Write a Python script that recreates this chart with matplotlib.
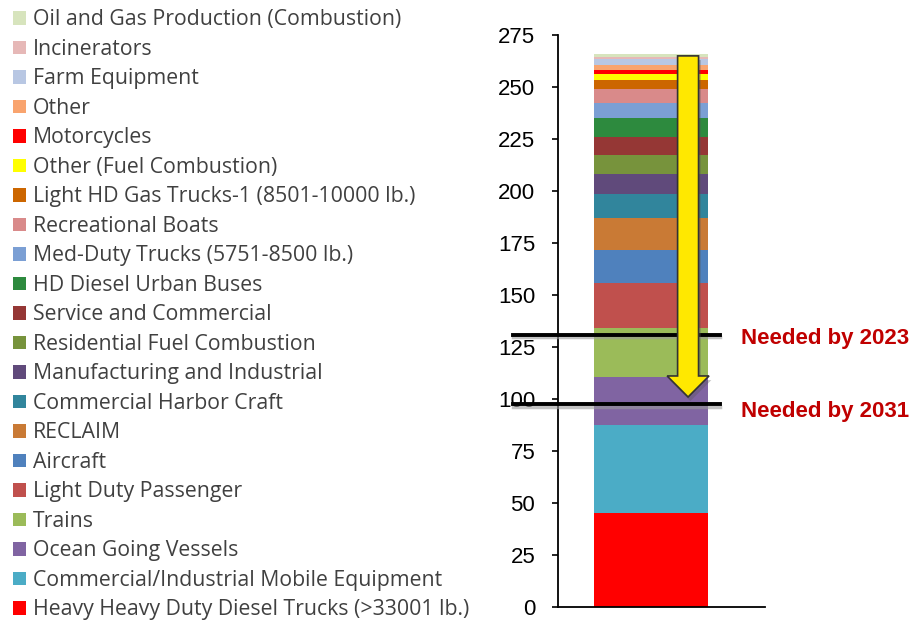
import matplotlib.pyplot as plt
from matplotlib.patches import Patch, FancyArrow

# NOx emission sources, bottom of stack first (tons/day)
sources = [
    "Heavy Heavy Duty Diesel Trucks (>33001 lb.)",
    "Commercial/Industrial Mobile Equipment",
    "Ocean Going Vessels",
    "Trains",
    "Light Duty Passenger",
    "Aircraft",
    "RECLAIM",
    "Commercial Harbor Craft",
    "Manufacturing and Industrial",
    "Residential Fuel Combustion",
    "Service and Commercial",
    "HD Diesel Urban Buses",
    "Med-Duty Trucks (5751-8500 lb.)",
    "Recreational Boats",
    "Light HD Gas Trucks-1 (8501-10000 lb.)",
    "Other (Fuel Combustion)",
    "Motorcycles",
    "Other",
    "Farm Equipment",
    "Incinerators",
    "Oil and Gas Production (Combustion)",
]
values = [45.0, 42.7, 23.0, 23.5, 21.5, 15.8, 15.4, 11.5, 10.0, 9.1,
          8.7, 9.1, 7.2, 6.7, 4.3, 2.9, 1.9, 2.4, 2.7, 1.0, 1.3]
colors = ["#ff0000", "#4bacc6", "#8064a2", "#9bbb59", "#c0504d", "#4f81bd",
          "#c97a35", "#31859c", "#604a7b", "#77933c", "#953735", "#2d8a3e",
          "#7b9fd4", "#d98a8a", "#cc6600", "#ffff00", "#ff0000", "#f9a46e",
          "#b8c7e3", "#e6b8b7", "#d7e4bd"]

targets = [131, 97.5]
target_labels = ["Needed by 2023", "Needed by 2031"]
yticks = list(range(0, 276, 25))

fig = plt.figure(figsize=(9.15, 6.21), dpi=100)
ax = fig.add_axes([0.610, 0.0225, 0.226, 0.921])

bottom = 0
for v, c in zip(values, colors):
    ax.bar(0, v, width=1.0, bottom=bottom, color=c, linewidth=0)
    bottom += v

ax.set_xlim(-0.816, 1.0)
ax.set_ylim(0, 275)
ax.set_yticks(yticks)
ax.set_xticks([])
for s in ["top", "right"]:
    ax.spines[s].set_visible(False)
ax.spines["left"].set_linewidth(1.3)
ax.spines["bottom"].set_linewidth(1.3)
ax.tick_params(axis="y", direction="out", length=4.5, width=1.2, pad=12,
               labelsize=16)
for lab in ax.get_yticklabels():
    lab.set_fontfamily("Liberation Sans")

# yellow arrow (drawn over the target lines) with a faint shadow
shadow = FancyArrow(0.345, 263, 0, -164, width=0.184, head_width=0.368,
                    head_length=10.1, length_includes_head=True,
                    facecolor="#555555", edgecolor="none", alpha=0.35,
                    zorder=6)
ax.add_patch(shadow)
arrow = FancyArrow(0.325, 265, 0, -164, width=0.184, head_width=0.368,
                   head_length=10.1, length_includes_head=True,
                   facecolor="#ffe800", edgecolor="#333333", linewidth=1.2,
                   zorder=7)
ax.add_patch(arrow)

# target lines and labels
for y, lab, off in zip(targets, target_labels, [-2, -3.5]):
    ax.plot([-1.21, 0.605], [y - 1.2, y - 1.2], color="#9a9a9a", lw=2.5,
            clip_on=False, zorder=4, alpha=0.6)
    ax.plot([-1.21, 0.605], [y, y], color="black", lw=2.8, clip_on=False,
            zorder=5)
    ax.text(0.79, y + off, lab, color="#c00000", fontsize=16,
            fontweight="bold", family="Liberation Sans", va="center",
            ha="left", clip_on=False)

handles = [Patch(facecolor=c, edgecolor="none") for c in colors][::-1]
fig.legend(handles, sources[::-1], loc="upper left",
           bbox_to_anchor=(0.0142, 0.985), frameon=False,
           borderaxespad=0, borderpad=0,
           handlelength=0.61, handleheight=0.61, handletextpad=0.33,
           labelspacing=0.40, labelcolor="#404040",
           prop={"family": "Open Sans", "size": 15.3})

fig.savefig("out.png", dpi=100)
